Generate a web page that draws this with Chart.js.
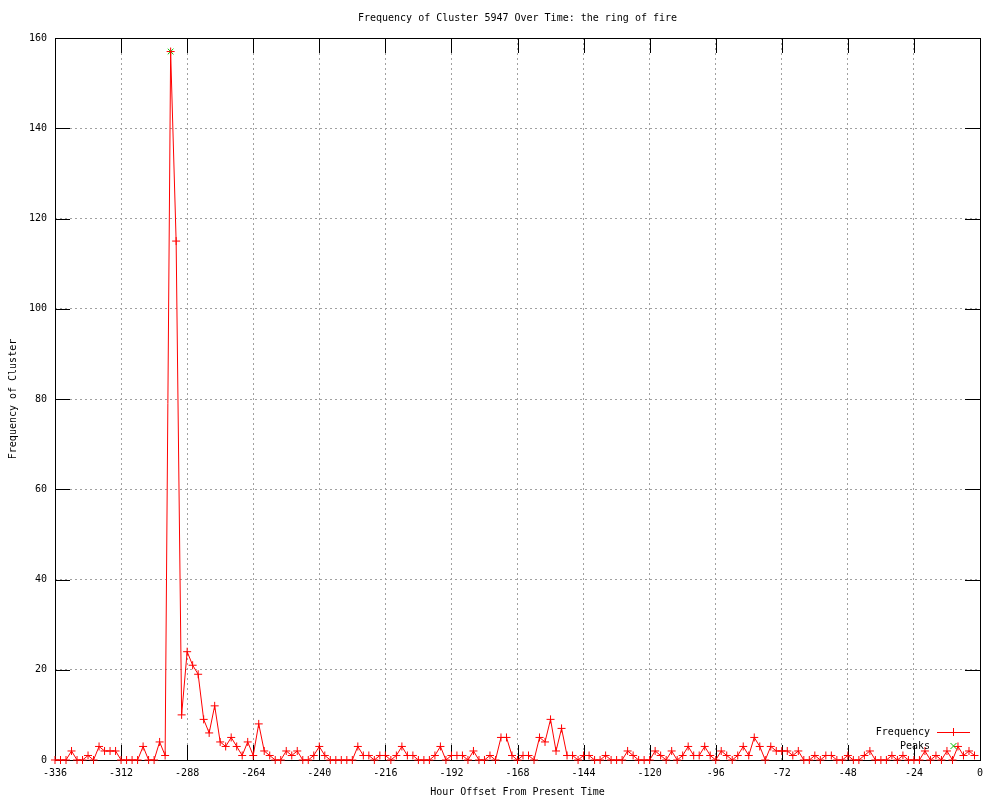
<!DOCTYPE html>
<html>
<head>
<meta charset="utf-8">
<script src="https://cdn.jsdelivr.net/npm/chart.js@4.4.1/dist/chart.umd.min.js"></script>
<style>
  html, body { margin: 0; padding: 0; background: #fff; }
  #wrap { width: 1000px; height: 800px; }
</style>
</head>
<body>
<div id="wrap"><canvas id="grafica" width="1000" height="800"></canvas></div>
<script>
// hour offsets (every 2 hours)
const horas = [
  -336, -334, -332, -330, -328, -326, -324, -322, -320, -318, -316, -314,
  -312, -310, -308, -306, -304, -302, -300, -298, -296, -294, -292, -290,
  -288, -286, -284, -282, -280, -278, -276, -274, -272, -270, -268, -266,
  -264, -262, -260, -258, -256, -254, -252, -250, -248, -246, -244, -242,
  -240, -238, -236, -234, -232, -230, -228, -226, -224, -222, -220, -218,
  -216, -214, -212, -210, -208, -206, -204, -202, -200, -198, -196, -194,
  -192, -190, -188, -186, -184, -182, -180, -178, -176, -174, -172, -170,
  -168, -166, -164, -162, -160, -158, -156, -154, -152, -150, -148, -146,
  -144, -142, -140, -138, -136, -134, -132, -130, -128, -126, -124, -122,
  -120, -118, -116, -114, -112, -110, -108, -106, -104, -102, -100, -98,
  -96, -94, -92, -90, -88, -86, -84, -82, -80, -78, -76, -74,
  -72, -70, -68, -66, -64, -62, -60, -58, -56, -54, -52, -50,
  -48, -46, -44, -42, -40, -38, -36, -34, -32, -30, -28, -26,
  -24, -22, -20, -18, -16, -14, -12, -10, -8, -6, -4, -2
];
const frecuencia = [
  0, 0, 0, 2, 0, 0, 1, 0, 3, 2, 2, 2,
  0, 0, 0, 0, 3, 0, 0, 4, 1, 157, 115, 10,
  24, 21, 19, 9, 6, 12, 4, 3, 5, 3, 1, 4,
  1, 8, 2, 1, 0, 0, 2, 1, 2, 0, 0, 1,
  3, 1, 0, 0, 0, 0, 0, 3, 1, 1, 0, 1,
  1, 0, 1, 3, 1, 1, 0, 0, 0, 1, 3, 0,
  1, 1, 1, 0, 2, 0, 0, 1, 0, 5, 5, 1,
  0, 1, 1, 0, 5, 4, 9, 2, 7, 1, 1, 0,
  1, 1, 0, 0, 1, 0, 0, 0, 2, 1, 0, 0,
  0, 2, 1, 0, 2, 0, 1, 3, 1, 1, 3, 1,
  0, 2, 1, 0, 1, 3, 1, 5, 3, 0, 3, 2,
  2, 2, 1, 2, 0, 0, 1, 0, 1, 1, 0, 0,
  1, 0, 0, 1, 2, 0, 0, 0, 1, 0, 1, 0,
  0, 0, 2, 0, 1, 0, 2, 0, 3, 1, 2, 1
];
const picosHoras = [-294];
const picosValores = [157];

const ticksX = [-336, -312, -288, -264, -240, -216, -192, -168, -144, -120, -96, -72, -48, -24, 0];
const ticksY = [0, 20, 40, 60, 80, 100, 120, 140, 160];

const FUENTE = "'DejaVu Sans Mono', 'Liberation Mono', monospace";
const ROJO = '#ff0000';
const VERDE = '#00c000';

// black inner tick marks + border, gnuplot style
const bordesTicks = {
  id: 'bordesTicks',
  beforeDatasetsDraw(chart) {
    const { ctx, chartArea: a, scales: { x, y } } = chart;
    const L = 15;
    const izq = Math.round(a.left), der = Math.round(a.right);
    ctx.save();
    ctx.setLineDash([]);
    ctx.strokeStyle = '#000';
    ctx.lineWidth = 1;
    ctx.beginPath();
    ticksX.forEach(v => {
      const px = Math.round(x.getPixelForValue(v)) + 0.5;
      ctx.moveTo(px, a.bottom); ctx.lineTo(px, a.bottom - L);
      ctx.moveTo(px, a.top); ctx.lineTo(px, a.top + L);
    });
    ticksY.forEach(v => {
      const py = Math.round(y.getPixelForValue(v)) + 0.5;
      ctx.moveTo(izq, py); ctx.lineTo(izq + L, py);
      ctx.moveTo(der, py); ctx.lineTo(der - L, py);
    });
    ctx.stroke();
    ctx.strokeRect(izq + 0.5, Math.round(a.top) + 0.5,
                   der - izq, Math.round(a.bottom - a.top));
    ctx.restore();
  }
};

// key inside the plot, bottom right
const leyenda = {
  id: 'leyenda',
  afterDraw(chart) {
    const { ctx, chartArea: a } = chart;
    const textoX = a.right - 50;
    const x0 = a.right - 43, x1 = a.right - 10, xm = (x0 + x1) / 2;
    const y1 = a.bottom - 28, y2 = a.bottom - 14;
    ctx.save();
    ctx.setLineDash([]);
    ctx.font = '10px ' + FUENTE;
    ctx.fillStyle = '#000';
    ctx.textAlign = 'right';
    ctx.textBaseline = 'middle';
    ctx.fillText(chart.data.datasets[0].label, textoX, y1);
    ctx.fillText(chart.data.datasets[1].label, textoX, y2);
    ctx.strokeStyle = ROJO;
    ctx.lineWidth = 1;
    ctx.beginPath();
    ctx.moveTo(x0, y1 + 0.5); ctx.lineTo(x1, y1 + 0.5);
    ctx.moveTo(xm, y1 - 4); ctx.lineTo(xm, y1 + 4);
    ctx.stroke();
    ctx.strokeStyle = VERDE;
    ctx.beginPath();
    ctx.moveTo(xm - 3, y2 - 3); ctx.lineTo(xm + 3, y2 + 3);
    ctx.moveTo(xm - 3, y2 + 3); ctx.lineTo(xm + 3, y2 - 3);
    ctx.stroke();
    ctx.restore();
  }
};

new Chart(document.getElementById('grafica').getContext('2d'), {
  type: 'line',
  data: {
    datasets: [{
      label: 'Frequency',
      data: horas.map((h, i) => ({ x: h, y: frecuencia[i] })),
      borderColor: ROJO,
      backgroundColor: ROJO,
      borderWidth: 1,
      tension: 0,
      pointStyle: 'cross',
      pointRadius: 4,
      pointBorderWidth: 1,
      pointBorderColor: ROJO,
      clip: false
    }, {
      label: 'Peaks',
      data: picosHoras.map((h, i) => ({ x: h, y: picosValores[i] })),
      showLine: false,
      borderColor: VERDE,
      backgroundColor: VERDE,
      pointStyle: 'crossRot',
      pointRadius: 4,
      pointBorderWidth: 1,
      clip: false
    }]
  },
  options: {
    responsive: false,
    animation: false,
    events: [],
    layout: { padding: { left: 0, right: 20, top: 0, bottom: 0 } },
    scales: {
      x: {
        type: 'linear',
        min: -336, max: 0,
        afterBuildTicks: s => { s.ticks = ticksX.map(v => ({ value: v })); },
        afterFit: s => { s.height = 40; },
        grid: { color: '#a0a0a0', drawTicks: false },
        border: { display: false, dash: [2, 3] },
        ticks: { color: '#000', font: { family: FUENTE, size: 10 }, padding: 7, maxRotation: 0, autoSkip: false },
        title: { display: true, text: 'Hour Offset From Present Time', color: '#000', font: { family: FUENTE, size: 10 }, padding: { top: 0, bottom: 2 } }
      },
      y: {
        type: 'linear',
        min: 0, max: 160,
        afterBuildTicks: s => { s.ticks = ticksY.map(v => ({ value: v })); },
        afterFit: s => { s.width = 55; },
        grid: { color: '#a0a0a0', drawTicks: false },
        border: { display: false, dash: [2, 3] },
        ticks: { color: '#000', font: { family: FUENTE, size: 10 }, padding: 8 },
        title: { display: true, text: 'Frequency of Cluster', color: '#000', font: { family: FUENTE, size: 10 }, padding: { top: 7, bottom: 0 } }
      }
    },
    plugins: {
      legend: { display: false },
      tooltip: { enabled: false },
      title: {
        display: true,
        fullSize: false,
        text: 'Frequency of Cluster 5947 Over Time: the ring of fire',
        color: '#000',
        font: { family: FUENTE, size: 10, weight: 'normal' },
        padding: { top: 12, bottom: 14 }
      }
    }
  },
  plugins: [bordesTicks, leyenda]
});
</script>
</body>
</html>
